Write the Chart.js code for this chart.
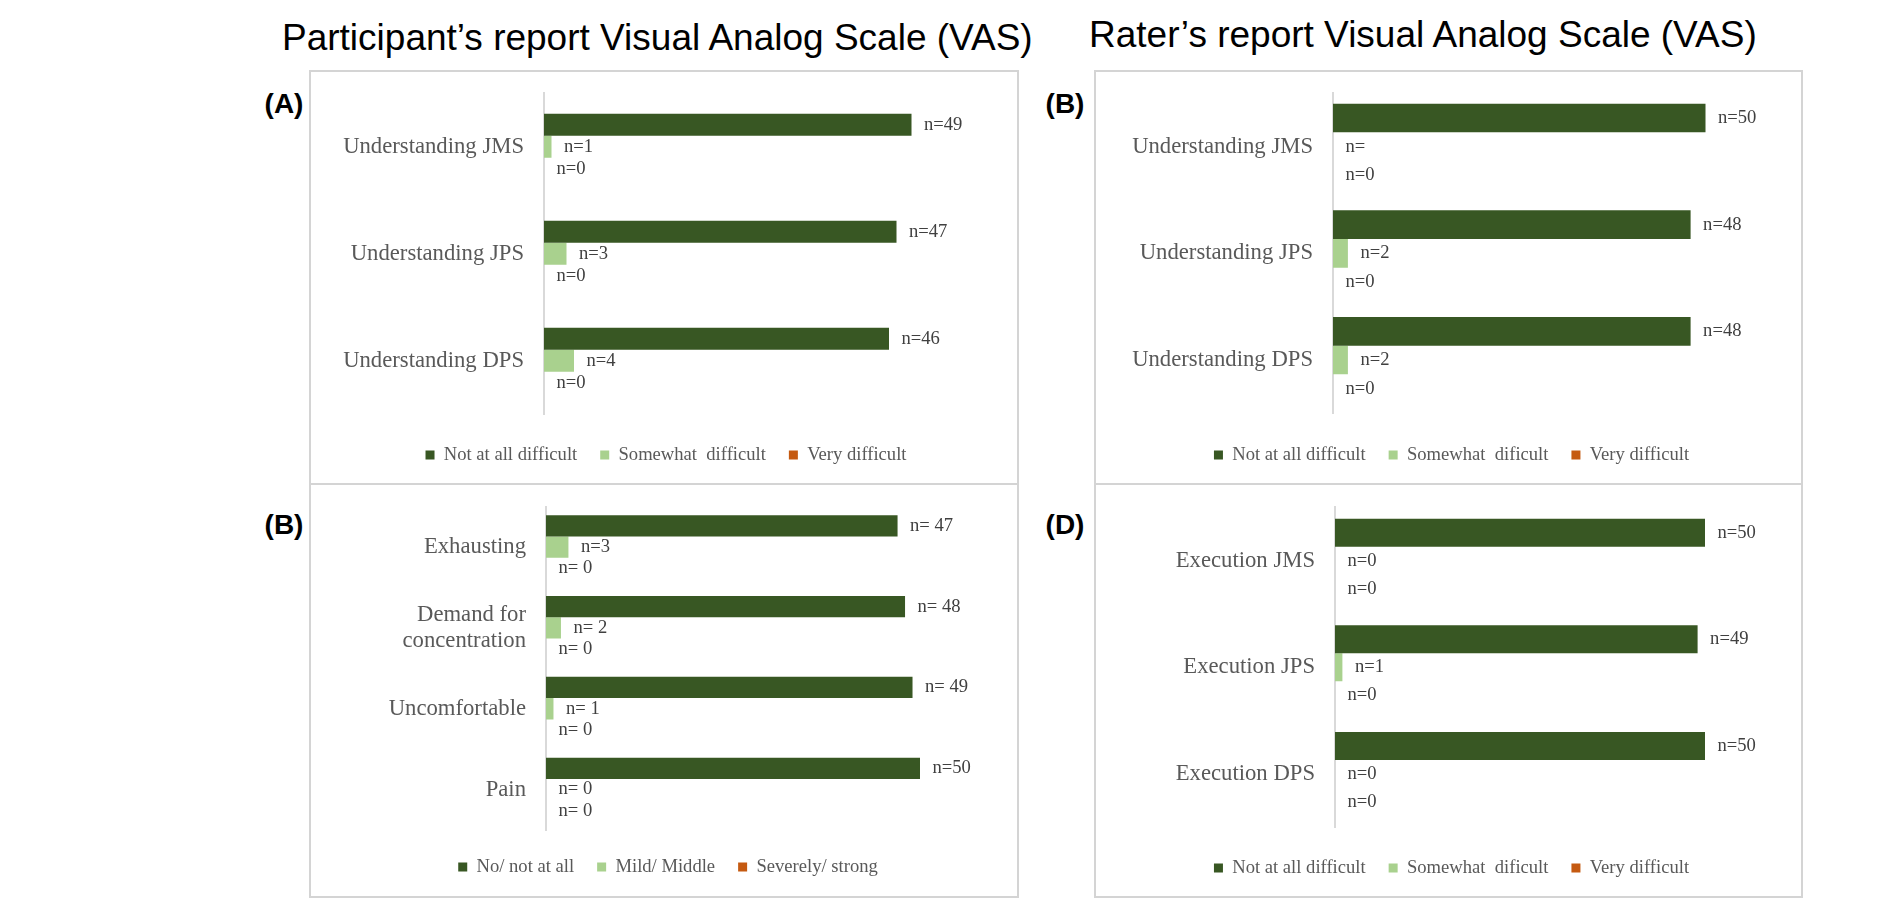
<!DOCTYPE html>
<html><head><meta charset="utf-8">
<script src="https://cdn.jsdelivr.net/npm/chart.js@4.4.1/dist/chart.umd.min.js"></script>
<style>
html,body{margin:0;padding:0;background:#fff;width:1899px;height:898px;overflow:hidden;}
.box{position:absolute;border:2px solid #d4d4d4;box-sizing:border-box;}
canvas{position:absolute;}
.t{position:absolute;font-family:'Liberation Sans',Arial,sans-serif;white-space:nowrap;color:#000;}
.title{font-size:37px;line-height:37px;}
.pl{font-size:28px;line-height:28px;font-weight:bold;width:60px;text-align:center;}
</style></head><body>
<div class="t title" style="left:282px;top:19px;">Participant’s report Visual Analog Scale (VAS)</div>
<div class="t title" style="left:1089px;top:16px;">Rater’s report Visual Analog Scale (VAS)</div>
<div class="box" style="left:309px;top:70px;width:710px;height:415px;"></div>
<div class="box" style="left:309px;top:483px;width:710px;height:415px;"></div>
<div class="box" style="left:1094px;top:70px;width:709px;height:415px;"></div>
<div class="box" style="left:1094px;top:483px;width:709px;height:415px;"></div>
<div class="t pl" style="left:254px;top:90px;">(A)</div>
<div class="t pl" style="left:254px;top:511px;">(B)</div>
<div class="t pl" style="left:1035px;top:90px;">(B)</div>
<div class="t pl" style="left:1035px;top:511px;">(D)</div>
<script>
// ---------- DATA ----------
// Panel (A) participant: understanding
const catsA = ['Understanding JMS', 'Understanding JPS', 'Understanding DPS'];
const notAtAllA = [49, 47, 46];
const somewhatA = [1, 3, 4];
const veryA = [0, 0, 0];
const txtNotAtAllA = ['n=49', 'n=47', 'n=46'];
const txtSomewhatA = ['n=1', 'n=3', 'n=4'];
const txtVeryA = ['n=0', 'n=0', 'n=0'];
const legendA = ['Not at all difficult', 'Somewhat  difficult', 'Very difficult'];

// Panel (B) participant: burden
const catsB = ['Exhausting', ['Demand for', 'concentration'], 'Uncomfortable', 'Pain'];
const noB = [47, 48, 49, 50];
const mildB = [3, 2, 1, 0];
const severeB = [0, 0, 0, 0];
const txtNoB = ['n= 47', 'n= 48', 'n= 49', 'n=50'];
const txtMildB = ['n=3', 'n= 2', 'n= 1', 'n= 0'];
const txtSevereB = ['n= 0', 'n= 0', 'n= 0', 'n= 0'];
const legendB = ['No/ not at all', 'Mild/ Middle', 'Severely/ strong'];

// Panel (B) rater: understanding
const catsR = ['Understanding JMS', 'Understanding JPS', 'Understanding DPS'];
const notAtAllR = [50, 48, 48];
const somewhatR = [0, 2, 2];
const veryR = [0, 0, 0];
const txtNotAtAllR = ['n=50', 'n=48', 'n=48'];
const txtSomewhatR = ['n=', 'n=2', 'n=2'];
const txtVeryR = ['n=0', 'n=0', 'n=0'];
const legendR = ['Not at all difficult', 'Somewhat  dificult', 'Very difficult'];

// Panel (D) rater: execution
const catsD = ['Execution JMS', 'Execution JPS', 'Execution DPS'];
const notAtAllD = [50, 49, 50];
const somewhatD = [0, 1, 0];
const veryD = [0, 0, 0];
const txtNotAtAllD = ['n=50', 'n=49', 'n=50'];
const txtSomewhatD = ['n=0', 'n=1', 'n=0'];
const txtVeryD = ['n=0', 'n=0', 'n=0'];
const legendD = ['Not at all difficult', 'Somewhat  dificult', 'Very difficult'];

const COLORS = ['#385723', '#A9D18E', '#C55A11'];

// ---------- RENDERING ----------
const barLabels = {
  id: 'barLabels',
  afterDatasetsDraw(chart, args, opts) {
    const ctx = chart.ctx;
    ctx.save();
    ctx.font = opts.size + 'px "Liberation Serif", "Times New Roman", serif';
    ctx.fillStyle = opts.color;
    ctx.textAlign = 'left';
    ctx.textBaseline = 'middle';
    chart.data.datasets.forEach((ds, i) => {
      const meta = chart.getDatasetMeta(i);
      meta.data.forEach((el, j) => {
        const t = ds.valueLabels[j];
        ctx.fillText(t, Math.max(el.x, el.base) + opts.offset, el.y);
      });
    });
    ctx.restore();
  }
};

function makeChart(g, cats, series, texts, names) {
  const fs = 18.6, lp = 23;
  const chartW = g.ppu * 60;
  const pr = g.w - (g.axisX - g.x0) - chartW;
  const pl = 2 * (g.legendCX - g.x0) - g.w + pr;
  const yW = g.axisX - g.x0 - pl;
  const pt = g.areaTop - g.y0;
  const pb = (g.y0 + g.h) - g.legendY - fs / 2 - 10;
  const legendTop = g.y0 + g.h - pb - (fs + lp + 10);
  const xH = legendTop - g.areaBottom;
  const cv = document.createElement('canvas');
  cv.width = g.w; cv.height = g.h;
  cv.style.left = g.x0 + 'px'; cv.style.top = g.y0 + 'px';
  cv.style.width = g.w + 'px'; cv.style.height = g.h + 'px';
  document.body.appendChild(cv);
  new Chart(cv, {
    type: 'bar',
    data: {
      labels: cats,
      datasets: series.map((s, i) => ({
        label: names[i], data: s, valueLabels: texts[i],
        backgroundColor: COLORS[i], borderWidth: 0,
        categoryPercentage: g.cat, barPercentage: 1
      }))
    },
    options: {
      indexAxis: 'y', responsive: false, animation: false, devicePixelRatio: 1,
      layout: { padding: { left: pl, right: pr, top: pt, bottom: pb } },
      scales: {
        x: {
          min: 0, max: 60, display: true,
          grid: { display: false }, border: { display: false },
          ticks: { display: false },
          afterFit: s => { s.height = xH; s.paddingLeft = 0; s.paddingRight = 0; }
        },
        y: {
          grid: { display: false, drawTicks: false },
          border: { display: true, color: '#d9d9d9', width: 2 },
          ticks: { padding: 20, color: '#595959',
                   font: { family: '"Liberation Serif", "Times New Roman", serif', size: 22.7, lineHeight: 1.15 } },
          afterFit: s => { s.width = yW; s.paddingTop = 0; s.paddingBottom = 0; }
        }
      },
      plugins: {
        legend: {
          position: 'bottom',
          labels: { boxWidth: 9, boxHeight: 9, padding: lp, color: '#595959',
                    font: { family: '"Liberation Serif", "Times New Roman", serif', size: fs } }
        },
        tooltip: { enabled: false },
        barLabels: { size: 18.6, color: '#404040', offset: 12.5 }
      }
    },
    plugins: [barLabels]
  });
}

makeChart({x0: 309, y0: 70, w: 710, h: 415, axisX: 544, areaTop: 93.3, areaBottom: 414.3, legendY: 455, legendCX: 666, ppu: 7.5, cat: 0.617},
  catsA, [notAtAllA, somewhatA, veryA], [txtNotAtAllA, txtSomewhatA, txtVeryA], legendA);
makeChart({x0: 309, y0: 483, w: 710, h: 415, axisX: 546, areaTop: 506.7, areaBottom: 830, legendY: 867, legendCX: 668, ppu: 7.48, cat: 0.79},
  catsB, [noB, mildB, severeB], [txtNoB, txtMildB, txtSevereB], legendB);
makeChart({x0: 1094, y0: 70, w: 709, h: 415, axisX: 1333, areaTop: 93.3, areaBottom: 413.3, legendY: 455, legendCX: 1451.5, ppu: 7.45, cat: 0.806},
  catsR, [notAtAllR, somewhatR, veryR], [txtNotAtAllR, txtSomewhatR, txtVeryR], legendR);
makeChart({x0: 1094, y0: 483, w: 709, h: 415, axisX: 1335, areaTop: 507.3, areaBottom: 827.3, legendY: 868, legendCX: 1451.5, ppu: 7.4, cat: 0.787},
  catsD, [notAtAllD, somewhatD, veryD], [txtNotAtAllD, txtSomewhatD, txtVeryD], legendD);
</script>
</body></html>
